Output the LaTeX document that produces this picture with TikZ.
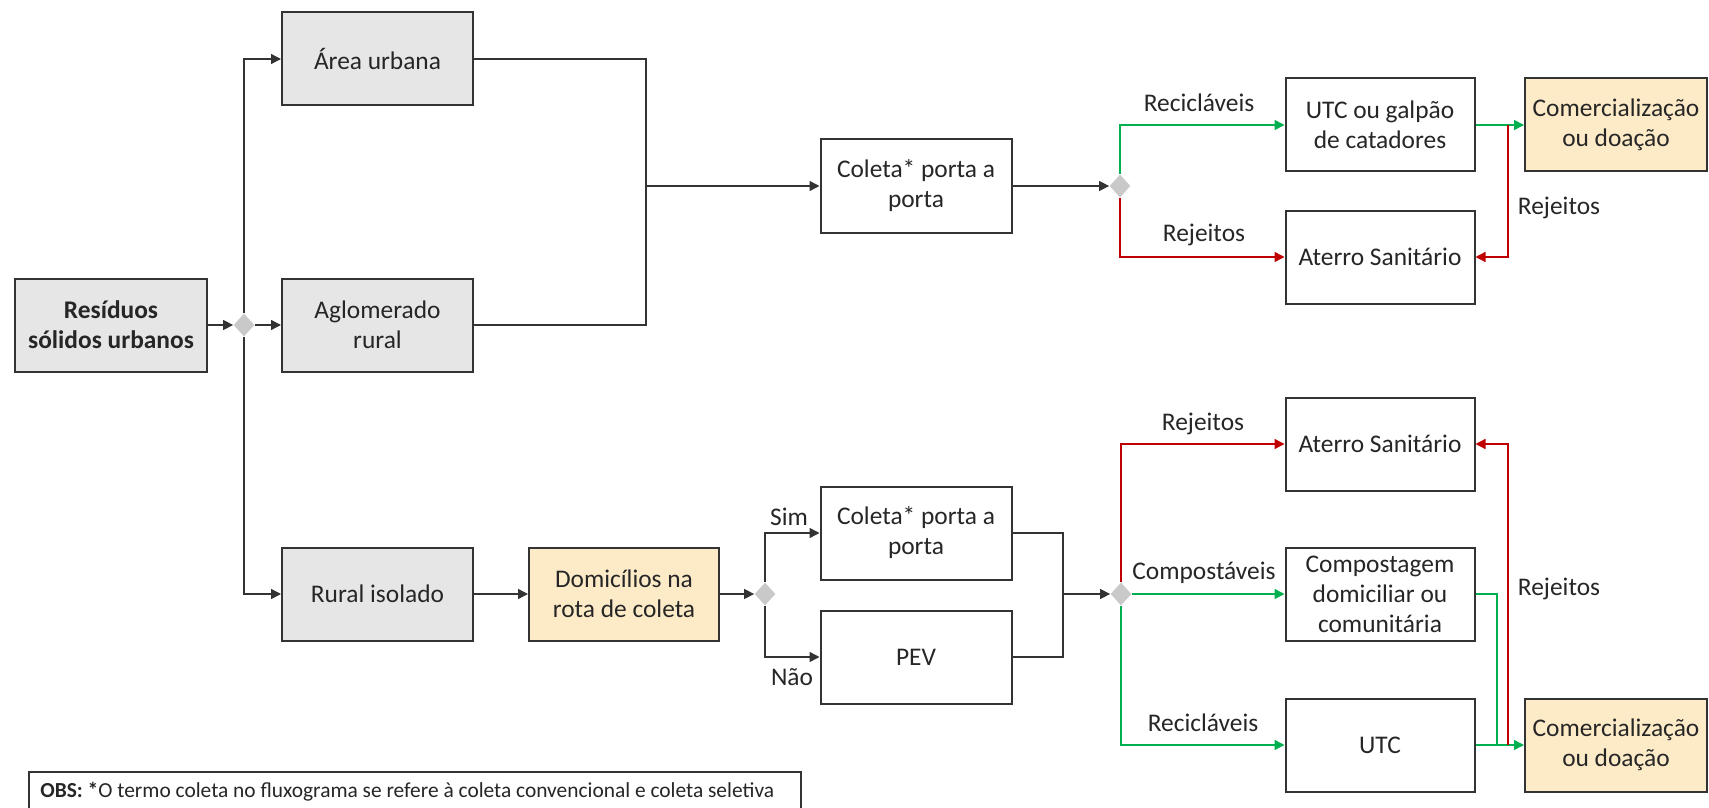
\documentclass[tikz,border=0pt]{standalone}
\usepackage{fontspec}
\setmainfont{Carlito}
\usepackage{tikz}
\usetikzlibrary{shapes.geometric, arrows.meta}
\usepackage{xcolor}
\definecolor{boxgray}{HTML}{E6E6E6}
\definecolor{boxyellow}{HTML}{FDEBC8}
\definecolor{diagray}{HTML}{C9C9C9}
\definecolor{linegray}{HTML}{333333}
\definecolor{okgreen}{HTML}{00B050}
\definecolor{badred}{HTML}{C00000}
\definecolor{txt}{HTML}{262626}
\tikzstyle{arrow} = [line width=0.7pt,draw=linegray,-{Triangle[length=5pt,width=5pt]}]
\tikzstyle{conn} = [line width=0.7pt,draw=linegray]
\tikzstyle{garrow} = [line width=0.7pt,draw=okgreen,-{Triangle[length=5pt,width=5pt]}]
\tikzstyle{gconn} = [line width=0.7pt,draw=okgreen]
\tikzstyle{rarrow} = [line width=0.7pt,draw=badred,-{Triangle[length=5pt,width=5pt]}]

\begin{document}
\begin{tikzpicture}
        [
            x=0.5pt, y=-0.5pt,
            box/.style={rectangle,draw=linegray,line width=1pt,minimum width=95.5pt,minimum height=46.5pt,
                inner sep=0pt,align=center,text=txt,font=\fontsize{12.7}{15}\selectfont},
            greybox/.style={box,fill=boxgray},
            yelbox/.style={box,fill=boxyellow,minimum width=91pt},
            dia/.style={diamond,fill=diagray,minimum width=10.5pt,minimum height=11.5pt,inner sep=0pt},
            lab/.style={inner sep=0pt,text=txt,font=\fontsize{12.7}{15}\selectfont},
        ]

    \useasboundingbox (0,0) rectangle (1709,808);
    \fill[white] (0,0) rectangle (1709,808);

    % upper branch
    \node[greybox,minimum width=96pt,font=\fontsize{12.7}{15}\selectfont\bfseries] (res) at (111,325) {Resíduos\\sólidos urbanos};
    \node[dia] (d1) at (244,325) {};
    \node[greybox] (area) at (377.5,59) {Área urbana};
    \node[greybox] (aglo) at (377.5,325) {Aglomerado\\rural};
    \coordinate (mt) at (646,186);
    \node[box] (cta) at (916,186) {Coleta* porta a\\porta};
    \node[dia] (d2) at (1120,186) {};
    \node[box,minimum width=94.5pt] (utcg) at (1380,125) {UTC ou galpão\\de catadores};
    \node[yelbox] (coma) at (1616,125) {Comercialização\\ou doação};
    \node[box,minimum width=94.5pt] (ata) at (1380,257) {Aterro Sanitário};
    \coordinate (ra) at (1508,125);

    % lower branch
    \node[greybox] (rural) at (377.5,594) {Rural isolado};
    \node[yelbox,minimum width=95pt] (dom) at (624,594) {Domicílios na\\rota de coleta};
    \node[dia] (d3) at (765,594) {};
    \node[box] (ctb) at (916,533) {Coleta* porta a\\porta};
    \node[box] (pev) at (916,657) {PEV};
    \coordinate (mb) at (1063,594);
    \node[dia] (d4) at (1121,594) {};
    \node[box,minimum width=94.5pt] (atb) at (1380,444) {Aterro Sanitário};
    \node[box,minimum width=94.5pt] (comp) at (1380,594) {Compostagem\\domiciliar ou\\comunitária};
    \node[box,minimum width=94.5pt] (utc) at (1380,745) {UTC};
    \node[yelbox] (comb) at (1616,745) {Comercialização\\ou doação};
    \coordinate (gb) at (1497,745);
    \coordinate (rb) at (1508,745);

    % labels
    \node[lab] (lrec1) at (1199,103) {Recicláveis};
    \node[lab] (lrej1) at (1204,235) {Rejeitos};
    \node[lab] (lrej2) at (1559,208) {Rejeitos};
    \node[lab] (lsim) at (789,517) {Sim};
    \node[lab] (lnao) at (792,677) {Não};
    \node[lab] (lrej3) at (1203,424) {Rejeitos};
    \node[lab] (lcomp) at (1204,573) {Compostáveis};
    \node[lab] (lrej4) at (1559,589) {Rejeitos};
    \node[lab] (lrec2) at (1203,723) {Recicláveis};

    \draw[arrow] (res) -- (d1);
    \draw[arrow] (d1) -- (aglo);
    \draw[arrow] (d1) |- (area);
    \draw[arrow] (d1) |- (rural);
    \draw[conn] (area) -| (mt);
    \draw[conn] (aglo) -| (mt);
    \draw[arrow] (mt) -- (cta);
    \draw[arrow] (cta) -- (d2);
    \draw[garrow] (d2) |- (utcg);
    \draw[rarrow] (d2) |- (ata);
    \draw[garrow] (utcg) -- (coma);
    \draw[rarrow] (ra) |- (ata);

    \draw[arrow] (rural) -- (dom);
    \draw[arrow] (dom) -- (d3);
    \draw[arrow] (d3) |- (ctb);
    \draw[arrow] (d3) |- (pev);
    \draw[conn] (ctb) -| (mb);
    \draw[conn] (pev) -| (mb);
    \draw[arrow] (mb) -- (d4);
    \draw[rarrow] (d4) |- (atb);
    \draw[garrow] (d4) -- (comp);
    \draw[garrow] (d4) |- (utc);
    \draw[garrow] (utc) -- (comb);
    \draw[gconn] (comp) -| (gb);
    \draw[rarrow] (rb) |- (atb);

    % note at the bottom
    \draw[line width=1pt,draw=linegray] (29,808) -- (29,772) -- (801,772) -- (801,808);
    \node[lab,anchor=base west,font=\fontsize{10.7}{12}\selectfont] (obs) at (40,797) {\textbf{OBS: *}O termo coleta no fluxograma se refere à coleta convencional e coleta seletiva};
\end{tikzpicture}
\end{document}
